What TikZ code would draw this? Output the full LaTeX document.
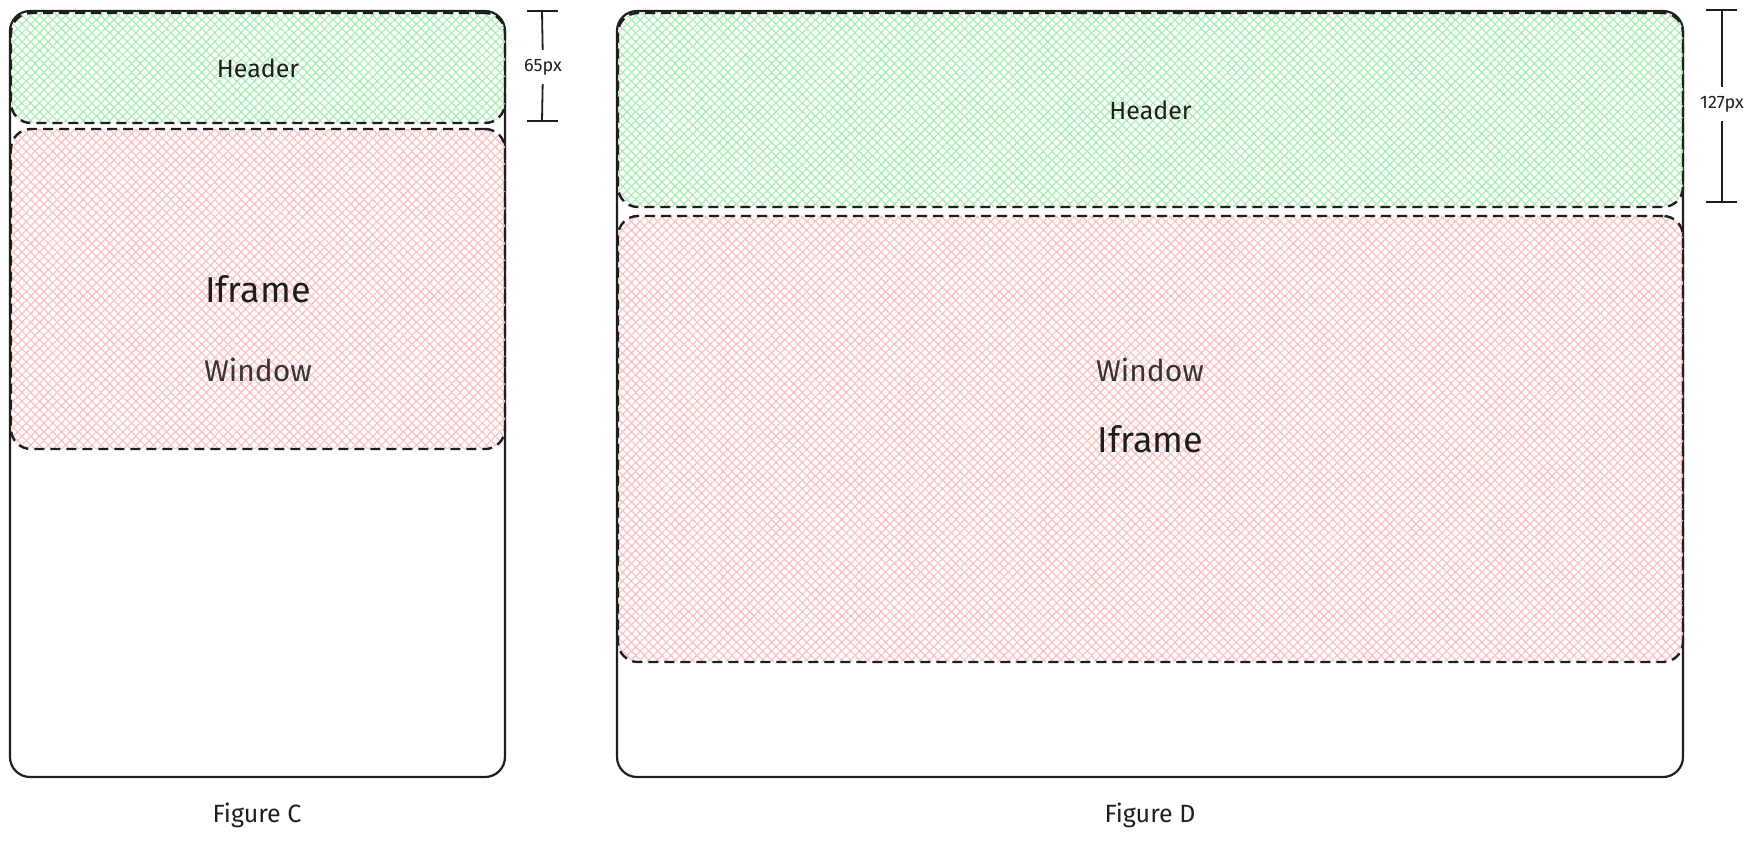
\documentclass[tikz,border=0pt]{standalone}
\usepackage{fontspec}
\setmainfont{Fira Sans}
\usetikzlibrary{patterns.meta}

\definecolor{ink}{HTML}{1E1E1E}
\definecolor{hatchgreen}{HTML}{A6EFB0}
\definecolor{hatchpink}{HTML}{FFC0C0}

\tikzset{
  frame/.style={draw=ink, line width=2.2pt, rounded corners=20pt, inner sep=0pt, outer sep=0pt},
  zone/.style={frame, line width=2.4pt, dash pattern=on 10pt off 6pt},
  headerzone/.style={zone, pattern={Hatch[angle=45,distance=6.2pt,line width=1.2pt]}, pattern color=hatchgreen, font=\fontsize{25}{28}\selectfont},
  iframezone/.style={zone, pattern={Hatch[angle=45,distance=6.2pt,line width=1.2pt]}, pattern color=hatchpink, font=\fontsize{36}{40}\selectfont},
  wintext/.style={text=ink!90, font=\fontsize{30}{33}\selectfont},
  caption/.style={text=ink, font=\fontsize{25}{28}\selectfont},
  dimtext/.style={text=ink, inner sep=9pt, font=\fontsize{18}{21}\selectfont},
  dimline/.style={draw=ink, line width=1.8pt}
}

\begin{document}
\begin{tikzpicture}[x=1pt, y=-1pt]
    \useasboundingbox (0,0) rectangle (1757,844);

    % figure C
    \node [frame, minimum width=495, minimum height=766] (frameC) at (257.5,394) {};
    \node [headerzone, minimum width=494, minimum height=110, text=ink] (headerC) at (258,68) {Header};
    \node [iframezone, minimum width=494, minimum height=320, text=ink] (iframeC) at (258,289) {Iframe};
    \node [wintext] (windowC) at (258,370) {Window};
    \node [caption] (captionC) at (257,815) {Figure C};

    \coordinate (dimCtop) at (542,11);
    \coordinate (dimCbot) at (542,121);
    \node [dimtext] (dimC) at (543,67) {65px};
    \draw [dimline] (dimCtop) -- (dimC) -- (dimCbot);
    \draw [dimline] ([xshift=-15]dimCtop) -- ([xshift=16]dimCtop);
    \draw [dimline] ([xshift=-15]dimCbot) -- ([xshift=16]dimCbot);

    % figure D
    \node [frame, minimum width=1066, minimum height=766] (frameD) at (1150,394) {};
    \node [headerzone, minimum width=1065, minimum height=194, text=ink] (headerD) at (1150.5,110) {Header};
    \node [iframezone, minimum width=1065, minimum height=446, text=ink] (iframeD) at (1150.5,439) {Iframe};
    \node [wintext] (windowD) at (1150,370) {Window};
    \node [caption] (captionD) at (1150,815) {Figure D};

    \coordinate (dimDtop) at (1722,10);
    \coordinate (dimDbot) at (1722,202);
    \node [dimtext] (dimD) at (1722,104) {127px};
    \draw [dimline] (dimDtop) -- (dimD) -- (dimDbot);
    \draw [dimline] ([xshift=-16]dimDtop) -- ([xshift=15]dimDtop);
    \draw [dimline] ([xshift=-16]dimDbot) -- ([xshift=15]dimDbot);
\end{tikzpicture}
\end{document}
